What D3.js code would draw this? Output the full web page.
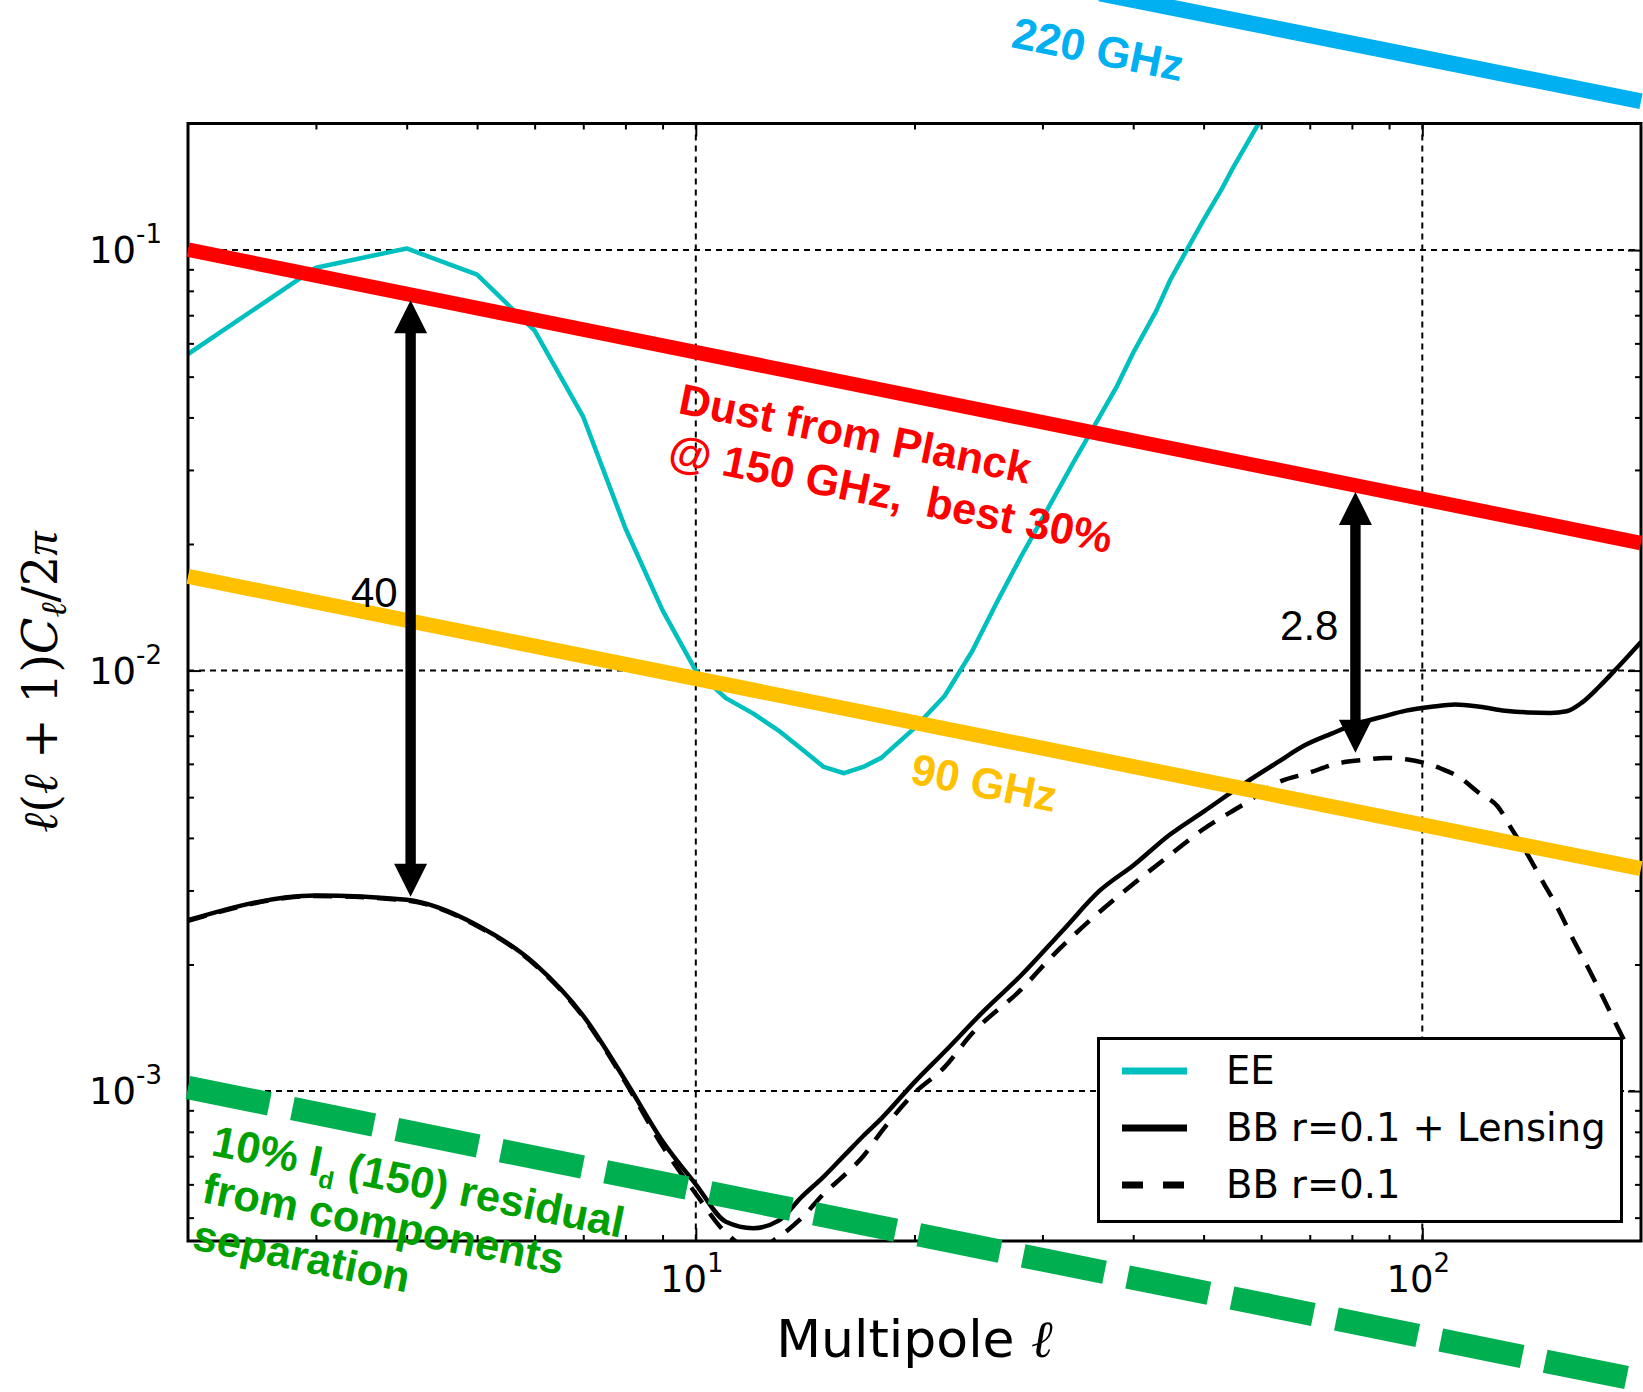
<!DOCTYPE html>
<html>
<head>
<meta charset="utf-8">
<script src="https://cdn.jsdelivr.net/npm/d3@7"></script>
<style>
html, body { margin: 0; padding: 0; background: #ffffff; }
svg { display: block; }
</style>
</head>
<body>
<svg id="chart" width="1643" height="1392"></svg>
<script>
// ---------------- DATA ----------------
const xDomain = [2, 200];
const yDomain = [4.4e-4, 0.2];

const xMajorTicks = [10, 100];
const xMajorExp = ["1", "2"];
const yMajorTicks = [1e-1, 1e-2, 1e-3];
const yMajorExp = ["-1", "-2", "-3"];

// EE spectrum
const eeEll = [2, 3, 4, 5, 6, 7, 8, 9, 10, 11, 12, 13, 14, 15, 16, 17, 18, 20, 22, 24, 26, 28, 30, 33, 35, 38, 40, 43, 45, 48, 50, 53, 55, 58, 60];
const eeVal = [0.0566, 0.0908, 0.1009, 0.0874, 0.0643, 0.0401, 0.0218, 0.0139, 0.0100, 0.0086, 0.0079, 0.0072, 0.0065, 0.0059, 0.0057, 0.0059, 0.0062, 0.0073, 0.0087, 0.0111, 0.0146, 0.0186, 0.0230, 0.0310, 0.0370, 0.0475, 0.0570, 0.0715, 0.0850, 0.1040, 0.1180, 0.1400, 0.1580, 0.1850, 0.2050];

// BB r=0.1 + lensing
const bbLensEll = [2, 3, 4, 5, 6, 7, 8, 9, 10, 11, 12, 13, 14, 15, 16, 17, 18, 20, 22, 25, 28, 32, 36, 40, 45, 50, 57, 63, 69, 75, 81, 88, 95, 103, 111, 120, 130, 140, 150, 158, 166, 175, 185, 200];
const bbLensVal = [0.00255, 0.00292, 0.00285, 0.00248, 0.00201, 0.00151, 0.00106, 0.00076, 0.000600, 0.000489, 0.000472, 0.000492, 0.000561, 0.000626, 0.000702, 0.000782, 0.00086, 0.00105, 0.00124, 0.00156, 0.00188, 0.00241, 0.00300, 0.00344, 0.00408, 0.00462, 0.00540, 0.00603, 0.00665, 0.00708, 0.00747, 0.00776, 0.00803, 0.00820, 0.00830, 0.00820, 0.00803, 0.00795, 0.00793, 0.00800, 0.00840, 0.00914, 0.01010, 0.01170];

// BB r=0.1 (tensor only)
const bbTensEll = [2, 3, 4, 5, 6, 7, 8, 9, 10, 11, 12, 13, 14, 15, 16, 17, 18, 20, 22, 24, 28, 31, 35, 39, 45, 50, 57, 63, 70, 76, 83, 89, 95, 100, 106, 112, 120, 127, 133, 139, 146, 154, 161, 169, 177, 186, 190];
const bbTensVal = [0.00254, 0.00291, 0.00284, 0.00247, 0.00200, 0.00150, 0.00105, 0.00074, 0.00057, 0.00046, 0.00042, 0.00045, 0.00050, 0.00057, 0.00063, 0.00070, 0.00080, 0.00099, 0.00114, 0.00137, 0.00174, 0.00210, 0.00256, 0.00300, 0.00365, 0.00420, 0.00483, 0.00540, 0.00572, 0.00600, 0.00613, 0.00620, 0.00615, 0.00605, 0.00585, 0.00560, 0.00510, 0.00475, 0.00418, 0.00370, 0.00318, 0.00270, 0.00231, 0.00197, 0.00168, 0.00141, 0.00131];

// Foreground power-law lines (endpoints)
const dust150Ell = [2, 200];
const dust150Val = [0.1002, 0.0201];
const dust90Ell = [2, 200];
const dust90Val = [0.01675, 0.00338];
const dust220Ell = [36, 200];
const dust220Val = [0.408, 0.2259];
const residualEll = [2, 200];
const residualVal = [0.00102, 0.000205];

// Ratio arrows: multipole, lower value, upper value, label
const arrowEll = [4.05, 80.9];
const arrowLow = [0.0029, 0.00638];
const arrowHigh = [0.076, 0.0266];
const arrowLabels = ["40", "2.8"];

// Legend
const legendLabels = ["EE", "BB r=0.1 + Lensing", "BB r=0.1"];

// Annotation texts
const dustLabelLines = ["Dust from Planck", "@ 150 GHz,  best 30%"];
const label90 = "90 GHz";
const label220 = "220 GHz";
const residualLines = ["from components", "separation"];

// ---------------- DRAWING ----------------
const svg = d3.select("#chart");
const X0 = 188, X1 = 1641, Y0 = 123.5, Y1 = 1241;

const x = d3.scaleLog().domain(xDomain).range([X0, X1]);
const y = d3.scaleLog().domain(yDomain).range([Y1, Y0]);

svg.append("rect").attr("width", 1643).attr("height", 1392).attr("fill", "#fff");

svg.append("defs").append("clipPath").attr("id", "plotclip")
  .append("rect").attr("x", X0).attr("y", Y0).attr("width", X1 - X0).attr("height", Y1 - Y0);

// Grid (dotted)
const grid = svg.append("g").attr("stroke", "#000").attr("stroke-width", 2).attr("stroke-dasharray", "6,5");
grid.selectAll("line.gx").data(xMajorTicks).join("line")
  .attr("x1", d => x(d)).attr("x2", d => x(d)).attr("y1", Y0).attr("y2", Y1);
grid.selectAll("line.gy").data(yMajorTicks).join("line")
  .attr("class", "gy")
  .attr("x1", X0).attr("x2", X1).attr("y1", d => y(d)).attr("y2", d => y(d));

// Ticks via d3 axes (inward, all four sides)
const allX = x.ticks().filter(v => v > xDomain[0] && v < xDomain[1]);
const minorX = allX.filter(v => !xMajorTicks.includes(v));
const allY = y.ticks().filter(v => v > yDomain[0] && v < yDomain[1]);
const minorY = allY.filter(v => !yMajorTicks.some(m => Math.abs(m - v) / m < 1e-6));

function styleAxis(g) {
  g.select(".domain").remove();
  g.selectAll(".tick line").attr("stroke", "#000").attr("stroke-width", 2);
  g.selectAll(".tick text").remove();
}
const MAJ = 13, MIN = 6;
svg.append("g").attr("transform", `translate(0,${Y1})`).call(d3.axisBottom(x).tickValues(xMajorTicks).tickSize(-MAJ)).call(styleAxis);
svg.append("g").attr("transform", `translate(0,${Y1})`).call(d3.axisBottom(x).tickValues(minorX).tickSize(-MIN)).call(styleAxis);
svg.append("g").attr("transform", `translate(0,${Y0})`).call(d3.axisTop(x).tickValues(xMajorTicks).tickSize(-MAJ)).call(styleAxis);
svg.append("g").attr("transform", `translate(0,${Y0})`).call(d3.axisTop(x).tickValues(minorX).tickSize(-MIN)).call(styleAxis);
svg.append("g").attr("transform", `translate(${X0},0)`).call(d3.axisLeft(y).tickValues(yMajorTicks).tickSize(-MAJ)).call(styleAxis);
svg.append("g").attr("transform", `translate(${X0},0)`).call(d3.axisLeft(y).tickValues(minorY).tickSize(-MIN)).call(styleAxis);
svg.append("g").attr("transform", `translate(${X1},0)`).call(d3.axisRight(y).tickValues(yMajorTicks).tickSize(-MAJ)).call(styleAxis);
svg.append("g").attr("transform", `translate(${X1},0)`).call(d3.axisRight(y).tickValues(minorY).tickSize(-MIN)).call(styleAxis);

// Curves (clipped to the axes)
const line = d3.line().x(d => x(d[0])).y(d => y(d[1]));
const smoothLine = d3.line().x(d => x(d[0])).y(d => y(d[1])).curve(d3.curveMonotoneX);
const curves = svg.append("g").attr("clip-path", "url(#plotclip)").attr("fill", "none");
curves.append("path").datum(d3.zip(eeEll, eeVal)).attr("d", line)
  .attr("stroke", "#00BFBF").attr("stroke-width", 4.5).attr("stroke-linejoin", "round");
curves.append("path").datum(d3.zip(bbTensEll, bbTensVal)).attr("d", smoothLine)
  .attr("stroke", "#000").attr("stroke-width", 4.5).attr("stroke-dasharray", "19,13");
curves.append("path").datum(d3.zip(bbLensEll, bbLensVal)).attr("d", smoothLine)
  .attr("stroke", "#000").attr("stroke-width", 4.5).attr("stroke-linejoin", "round");

// Frame
svg.append("rect").attr("x", X0).attr("y", Y0).attr("width", X1 - X0).attr("height", Y1 - Y0)
  .attr("fill", "none").attr("stroke", "#000").attr("stroke-width", 3);

// Tick labels (mathtext style 10^n)
const tickFont = "'DejaVu Sans', sans-serif";
xMajorTicks.forEach((v, i) => {
  const t = svg.append("text").attr("x", x(v) - 4).attr("y", 1291.5)
    .attr("text-anchor", "middle").attr("font-family", tickFont).attr("font-size", 37).attr("fill", "#000");
  t.append("tspan").text("10");
  t.append("tspan").attr("font-size", 26).attr("dy", -20).text(xMajorExp[i]);
});
yMajorTicks.forEach((v, i) => {
  const t = svg.append("text").attr("x", 162).attr("y", y(v) + 13)
    .attr("text-anchor", "end").attr("font-family", tickFont).attr("font-size", 37).attr("fill", "#000");
  t.append("tspan").text("10");
  t.append("tspan").attr("font-size", 26).attr("dy", -20).text(yMajorExp[i]);
});

// Axis labels
const xl = svg.append("text").attr("x", (X0 + X1) / 2).attr("y", 1357)
  .attr("text-anchor", "middle").attr("font-family", tickFont).attr("font-size", 52).attr("fill", "#000");
xl.append("tspan").text("Multipole ");
xl.append("tspan").attr("font-family", "'DejaVu Serif', serif").attr("font-style", "italic").text("\u2113");

const yl = svg.append("text").attr("transform", `translate(57,${(Y0 + Y1) / 2}) rotate(-90)`)
  .attr("text-anchor", "middle").attr("font-family", "'DejaVu Serif', serif").attr("font-size", 48).attr("fill", "#000");
yl.append("tspan").attr("font-style", "italic").text("\u2113");
yl.append("tspan").text("(");
yl.append("tspan").attr("font-style", "italic").text("\u2113");
yl.append("tspan").text(" + 1)");
yl.append("tspan").attr("font-style", "italic").text("C");
yl.append("tspan").attr("font-style", "italic").attr("font-size", 36).attr("dy", 9).text("\u2113");
yl.append("tspan").attr("dy", -9).text("/2");
yl.append("tspan").attr("font-family", "'Liberation Serif', serif").attr("font-style", "italic").text("\u03c0");

// Legend
const lg = svg.append("g");
lg.append("rect").attr("x", 1098.5).attr("y", 1038.5).attr("width", 523).attr("height", 183)
  .attr("fill", "#fff").attr("stroke", "#000").attr("stroke-width", 3);
const legendStyles = [
  { stroke: "#00BFBF", dash: null },
  { stroke: "#000", dash: null },
  { stroke: "#000", dash: "21,20" }
];
legendLabels.forEach((lab, i) => {
  const yy = 1071 + i * 57;
  lg.append("line").attr("x1", 1122).attr("x2", 1187).attr("y1", yy).attr("y2", yy)
    .attr("stroke", legendStyles[i].stroke).attr("stroke-width", 7)
    .attr("stroke-dasharray", legendStyles[i].dash);
  lg.append("text").attr("x", 1226).attr("y", yy + 13).attr("font-family", tickFont)
    .attr("font-size", 38.5).attr("fill", "#000").text(lab);
});

// Foreground power-law lines (overlay, not clipped)
const over = svg.append("g").attr("fill", "none");
over.append("path").datum(d3.zip(dust150Ell, dust150Val)).attr("d", line)
  .attr("stroke", "#FF0000").attr("stroke-width", 14.5);
over.append("path").datum(d3.zip(dust90Ell, dust90Val)).attr("d", line)
  .attr("stroke", "#FFC000").attr("stroke-width", 15);
over.append("path").datum(d3.zip(dust220Ell, dust220Val)).attr("d", line)
  .attr("stroke", "#00B0F0").attr("stroke-width", 16);
over.append("path").datum(d3.zip(residualEll, residualVal)).attr("d", line)
  .attr("stroke", "#00B050").attr("stroke-width", 23.5).attr("stroke-dasharray", "83,23.5");

// Arrows
function arrowPath(xc, yTop, yBot) {
  const hw = 16.5, sw = 5.2, hl = 33;
  return `M${xc},${yTop} L${xc + hw},${yTop + hl} L${xc + sw},${yTop + hl} L${xc + sw},${yBot - hl} L${xc + hw},${yBot - hl} L${xc},${yBot} L${xc - hw},${yBot - hl} L${xc - sw},${yBot - hl} L${xc - sw},${yTop + hl} L${xc - hw},${yTop + hl} Z`;
}
const labelOffsets = [[-13, 607], [-17, 640]];
arrowEll.forEach((l, i) => {
  const xc = x(l);
  svg.append("path").attr("d", arrowPath(xc, y(arrowHigh[i]), y(arrowLow[i]))).attr("fill", "#000");
  svg.append("text").attr("x", xc + labelOffsets[i][0]).attr("y", labelOffsets[i][1])
    .attr("text-anchor", "end").attr("font-family", "'Liberation Sans', Arial, sans-serif")
    .attr("font-size", 42).attr("fill", "#000").text(arrowLabels[i]);
});

// Rotated annotation labels
const ANG = 11.4;
const boldFont = "'Liberation Sans', Arial, sans-serif";
function rotLabel(ox, oy, size, color) {
  return svg.append("text").attr("transform", `translate(${ox},${oy}) rotate(${ANG})`)
    .attr("font-family", boldFont).attr("font-weight", "bold").attr("font-size", size)
    .attr("fill", color).attr("xml:space", "preserve").style("white-space", "pre");
}
const red = rotLabel(677, 413, 43.5, "#FF0000");
dustLabelLines.forEach((s, i) => red.append("tspan").attr("x", 0).attr("y", i * 52).text(s));

rotLabel(909, 783, 43.5, "#FFC000").text(label90);
rotLabel(1010, 47, 44, "#00B0F0").text(label220);

const green = rotLabel(210, 1155, 43.5, "#00A000");
green.append("tspan").attr("x", 0).attr("y", 0).text("10% I");
green.append("tspan").attr("font-size", 25).attr("dy", 10).text("d");
green.append("tspan").attr("dy", -10).text(" (150) residual");
residualLines.forEach((s, i) => green.append("tspan").attr("x", 0).attr("y", (i + 1) * 48).text(s));
</script>
</body>
</html>
